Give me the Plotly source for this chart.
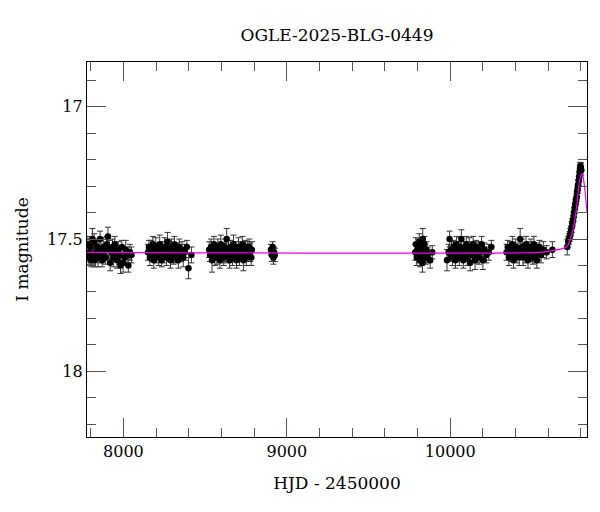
import plotly.graph_objects as go

# ---- data ----
t1 = [7783,7788,7793,7798,7804,7810,7815,7821,7827,7833,7839,7845,7851,7857,7863,7870,7877,7884,7891,7898,
      7905,7912,7919,7926,7933,7940,7947,7954,7961,7968,7975,7982,7990,7998,8006,8014,8022,8030,8040,8049]
m1 = [17.52,17.57,17.55,17.53,17.58,17.50,17.56,17.51,17.58,17.55,17.53,17.57,17.54,17.50,17.56,17.58,17.53,17.55,17.57,17.52,
      17.49,17.54,17.59,17.55,17.53,17.57,17.52,17.55,17.58,17.54,17.56,17.60,17.53,17.59,17.57,17.54,17.56,17.60,17.55,17.56]
e1 = [0.03,0.025,0.035,0.03,0.025,0.04,0.035,0.03,0.025,0.03,0.03,0.035,0.025,0.03,0.03,0.025,0.035,0.03,0.025,0.03,
      0.035,0.035,0.03,0.025,0.03,0.035,0.03,0.025,0.03,0.03,0.035,0.03,0.025,0.035,0.03,0.035,0.03,0.025,0.03,0.03]

t2 = [8150,8156,8162,8168,8174,8180,8186,8192,8198,8204,8210,8216,8222,8228,8234,8240,8246,8252,8258,8264,
      8270,8276,8282,8288,8294,8300,8306,8312,8318,8324,8330,8336,8342,8350,8358,8366,8376,8388,8398,8416]
m2 = [17.55,17.53,17.57,17.54,17.56,17.52,17.58,17.55,17.53,17.56,17.54,17.57,17.52,17.55,17.58,17.54,17.56,17.53,17.55,17.57,
      17.51,17.54,17.56,17.58,17.53,17.55,17.57,17.52,17.56,17.54,17.55,17.58,17.53,17.56,17.54,17.57,17.55,17.53,17.61,17.56]
e2 = [0.03,0.025,0.03,0.035,0.025,0.03,0.03,0.025,0.035,0.03,0.025,0.03,0.035,0.03,0.025,0.03,0.03,0.035,0.025,0.03,
      0.035,0.03,0.025,0.03,0.03,0.035,0.025,0.03,0.03,0.025,0.035,0.03,0.03,0.025,0.03,0.035,0.03,0.025,0.04,0.03]

t3 = [8525,8530,8536,8542,8548,8554,8560,8566,8572,8578,8584,8590,8596,8602,8608,8614,8620,8626,8632,8638,
      8644,8650,8656,8662,8668,8674,8680,8686,8692,8698,8704,8710,8716,8722,8728,8734,8740,8746,8752,8758,
      8764,8770,8776,8782,8786]
m3 = [17.54,17.56,17.53,17.58,17.55,17.52,17.57,17.54,17.56,17.53,17.55,17.58,17.52,17.56,17.54,17.57,17.53,17.55,17.50,17.56,
      17.54,17.58,17.53,17.55,17.57,17.52,17.56,17.54,17.58,17.55,17.53,17.57,17.54,17.56,17.52,17.58,17.55,17.53,17.57,17.54,
      17.56,17.53,17.55,17.57,17.54]
e3 = [0.03,0.025,0.03,0.045,0.025,0.03,0.03,0.025,0.035,0.03,0.025,0.03,0.035,0.03,0.025,0.03,0.03,0.035,0.04,0.03,
      0.035,0.03,0.025,0.03,0.03,0.035,0.025,0.03,0.03,0.025,0.035,0.03,0.03,0.025,0.03,0.04,0.03,0.025,0.03,0.03,
      0.025,0.03,0.035,0.03,0.03]

t4 = [8903,8908,8913,8918,8922,8926]
m4 = [17.54,17.56,17.53,17.57,17.55,17.56]
e4 = [0.02,0.025,0.02,0.025,0.02,0.025]

t5 = [9786,9790,9795,9799,9803,9807,9811,9815,9819,9823,9827,9830,9832,9835,9838,9842,9846,9850,9855,9862,9877,9890]
m5 = [17.55,17.52,17.57,17.54,17.53,17.56,17.51,17.58,17.55,17.53,17.57,17.59,17.50,17.54,17.56,17.52,17.55,17.57,17.54,17.56,17.58,17.55]
e5 = [0.03,0.025,0.03,0.025,0.03,0.03,0.03,0.025,0.03,0.025,0.03,0.035,0.04,0.03,0.025,0.03,0.03,0.025,0.03,0.03,0.03,0.025]

t6 = [9980,9990,9996,10002,10008,10014,10020,10026,10032,10038,10044,10050,10056,10062,10068,10074,10080,10086,10092,10098,
      10104,10110,10116,10122,10128,10134,10140,10146,10152,10158,10164,10170,10176,10184,10192,10200,10210,10222,10236,10252]
m6 = [17.58,17.55,17.50,17.56,17.54,17.57,17.53,17.55,17.58,17.52,17.56,17.54,17.57,17.53,17.50,17.55,17.58,17.54,17.56,17.52,
      17.57,17.55,17.53,17.59,17.54,17.56,17.52,17.55,17.58,17.53,17.56,17.54,17.57,17.55,17.52,17.58,17.54,17.56,17.55,17.53]
e6 = [0.04,0.03,0.03,0.025,0.03,0.03,0.025,0.035,0.03,0.03,0.025,0.03,0.03,0.035,0.035,0.025,0.03,0.03,0.025,0.03,
      0.03,0.025,0.035,0.03,0.03,0.025,0.03,0.03,0.035,0.025,0.03,0.03,0.025,0.03,0.03,0.035,0.025,0.03,0.03,0.025]

t7 = [10345,10352,10359,10366,10373,10380,10387,10394,10401,10408,10415,10422,10428,10434,10440,10446,10452,10458,10464,10470,
      10476,10482,10488,10494,10500,10506,10512,10518,10524,10530,10538,10546,10556,10570,10590,10625]
m7 = [17.55,17.53,17.57,17.54,17.56,17.52,17.58,17.55,17.53,17.56,17.54,17.57,17.50,17.55,17.53,17.57,17.54,17.56,17.52,17.55,
      17.58,17.54,17.56,17.53,17.55,17.57,17.52,17.56,17.54,17.58,17.55,17.53,17.56,17.54,17.55,17.54]
e7 = [0.03,0.025,0.03,0.03,0.025,0.03,0.03,0.025,0.03,0.03,0.025,0.03,0.04,0.025,0.03,0.03,0.025,0.03,0.03,0.025,
      0.03,0.03,0.025,0.03,0.03,0.025,0.03,0.03,0.025,0.03,0.03,0.025,0.03,0.03,0.025,0.03]

t8 = [10716,10722,10727,10731,10735,10739,10743,10747,10751,10755,10758,10762,10765,10768,10771,10774,10777,10780,
      10783,10786,10789,10792,10794,10796,10798,10800,10802]
m8 = [17.53,17.51,17.50,17.49,17.48,17.47,17.455,17.44,17.43,17.415,17.40,17.385,17.37,17.36,17.35,17.34,17.32,17.31,
      17.295,17.28,17.265,17.25,17.24,17.225,17.23,17.235,17.24]
e8 = [0.03,0.02,0.02,0.018,0.02,0.018,0.02,0.018,0.02,0.018,0.02,0.018,0.02,0.018,0.02,0.018,0.02,0.018,
      0.02,0.018,0.02,0.018,0.02,0.015,0.018,0.02,0.018]

# model curve
model_t = [7777,10550,10630,10680,10714,10730,10745,10755,10765,10775,10785,10793,10800,10806,10812,10817,10822,10827,10832,10837]
model_m = [17.55,17.55,17.543,17.537,17.528,17.51,17.48,17.452,17.417,17.37,17.31,17.275,17.258,17.253,17.262,17.28,17.303,17.33,17.365,17.398]

title_text = "OGLE-2025-BLG-0449"
x_title = "HJD - 2450000"
y_title = "I magnitude"
x_ticks = [8000, 9000, 10000]
y_ticks = [17, 17.5, 18]

all_t = t1 + t2 + t3 + t4 + t5 + t6 + t7 + t8
all_m = m1 + m2 + m3 + m4 + m5 + m6 + m7 + m8
all_e = e1 + e2 + e3 + e4 + e5 + e6 + e7 + e8

FONT = "DejaVu Serif"

fig = go.Figure()
fig.add_trace(go.Scatter(
    x=all_t, y=all_m, mode="markers",
    marker=dict(color="black", size=6.5, line=dict(width=0)),
    error_y=dict(type="data", array=all_e, visible=True, color="#333", thickness=1, width=3),
    showlegend=False, hoverinfo="skip"))
fig.add_trace(go.Scatter(
    x=model_t, y=model_m, mode="lines",
    line=dict(color="#ee00ee", width=1.2, shape="spline", smoothing=0.6),
    showlegend=False, hoverinfo="skip"))

axis_common = dict(
    showgrid=False, zeroline=False, showline=True, linecolor="black", linewidth=1.2,
    mirror="allticks", ticks="inside", tickcolor="#555", tickwidth=1.2,
    tickfont=dict(family=FONT, size=16, color="black"),
)

fig.update_xaxes(
    range=[7777, 10837], tickvals=x_ticks, ticktext=[str(v) for v in x_ticks], ticklen=19,
    minor=dict(dtick=200, tick0=0, ticklen=9, ticks="inside", tickcolor="#555", tickwidth=1.2),
    title=dict(text=x_title, font=dict(family=FONT, size=17, color="black"), standoff=16),
    **axis_common)
fig.update_yaxes(
    range=[18.248, 16.831], tickvals=y_ticks, ticktext=["17", "17.5", "18"], ticklen=19,
    minor=dict(dtick=0.1, tick0=0, ticklen=9, ticks="inside", tickcolor="#555", tickwidth=1.2),
    title=dict(text=y_title, font=dict(family=FONT, size=17, color="black"), standoff=14),
    **axis_common)

# page body has an 8px margin, so the figure is drawn 8px in from the top-left corner
W, H = 584, 496
fig.update_layout(
    width=W, height=H,
    margin=dict(l=79, r=W - 579, t=54, b=H - 429),
    plot_bgcolor="white", paper_bgcolor="white",
    title=dict(text=title_text, x=(79 + 579) / 2 / W, xanchor="center", y=1 - 27 / H, yanchor="middle",
               yref="container", font=dict(family=FONT, size=17, color="black")),
)

fig.write_html("out.html")
